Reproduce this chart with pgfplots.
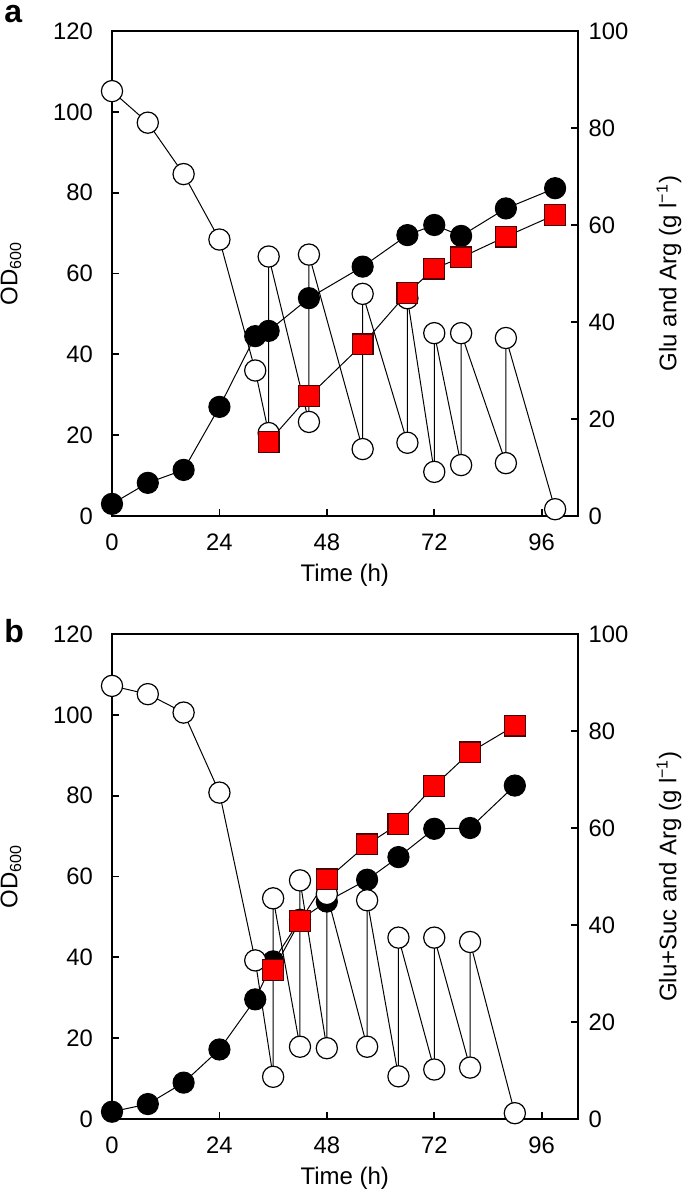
\documentclass[border=0pt]{standalone}
\usepackage{fontspec}
\setmainfont{Liberation Sans}
\usepackage{pgfplots}
\pgfplotsset{compat=1.18}

\pgfplotsset{
  base/.style={scale only axis, width=232.75pt, height=242.5pt,
    xmin=0, xmax=104, clip=false, tick align=inside, major tick length=3.5pt,
    /pgf/number format/assume math mode=true,
    tick label style={font=\fontsize{11.9}{13}\selectfont},
    label style={font=\fontsize{12}{13}\selectfont},
    axis line style={line width=1pt},
    every tick/.style={line width=0.9pt, black}},
  leftax/.style={base, ymin=0, ymax=120, ytick={0,20,...,120},
    xtick={0,24,...,96}, xtick pos=left, ytick pos=left,
    yticklabel shift=6pt, xticklabel shift=5.5pt,
    xlabel={Time (h)},
    xlabel style={at={(axis description cs:0.5,-0.136)}, anchor=base},
    ylabel={OD\textsubscript{600}},
    ylabel style={at={(axis description cs:-0.217,0.5)}, anchor=center}},
  rightax/.style={base, ymin=0, ymax=100, ytick={0,20,...,100},
    axis x line=none, axis y line*=right, yticklabel pos=right,
    yticklabel shift=2pt,
    ylabel style={at={(axis description cs:1.1966,0.5)}, anchor=center}},
  blk/.style={black, line width=0.5pt, mark=*, mark size=5.3pt,
    mark options={fill=black, draw=black, line width=0.5pt}},
  opn/.style={black, line width=0.5pt, mark=*, mark size=5.3pt,
    mark options={fill=white, draw=black, line width=0.6pt}},
  sqr/.style={black, line width=0.5pt, mark=square*, mark size=5.2pt,
    mark options={fill=red, draw=black!70!red, line width=0.6pt}},
}

\begin{document}
\begin{tikzpicture}
\useasboundingbox (0,0) rectangle (342.5pt,598pt);
\node[anchor=base west, inner sep=0pt, font=\bfseries\fontsize{16}{18}\selectfont] at (2pt,586.5pt) {a};
\node[anchor=base west, inner sep=0pt, font=\bfseries\fontsize{16}{18}\selectfont] at (2pt,276.5pt) {b};

% ---------- panel a ----------
\begin{axis}[leftax, at={(56pt,340pt)}, anchor=south west]
\addplot[blk] coordinates {(0,3.0) (8,8.2) (16,11.4) (24,27.0) (32,44.5) (35,45.8) (44,53.9) (56,61.7) (66,69.5) (72,72.0) (78,69.3) (88,76.1) (99,81.1)};
\end{axis}
\begin{axis}[rightax, at={(56pt,340pt)}, anchor=south west,
  ylabel={Glu and Arg (g l\textsuperscript{−1})}]
\addplot[opn] coordinates {(0,87.6) (8,81.1) (16,70.5) (24,57.0) (32,30.0) (35,17.1) (35,53.5) (44,19.4) (44,53.9) (56,13.8) (56,45.8) (66,15.1) (66,44.9) (72,9.1) (72,37.7) (78,10.5) (78,37.7) (88,10.9) (88,36.7) (99,1.4)};
\addplot[sqr] coordinates {(35,15.3) (44,24.7) (56,35.4) (66,46.0) (72,51.0) (78,53.3) (88,57.6) (99,62.1)};
\end{axis}

% ---------- panel b ----------
\begin{axis}[leftax, at={(56pt,38.5pt)}, anchor=south west]
\addplot[blk] coordinates {(0,1.8) (8,3.7) (16,9.0) (24,17.2) (32,29.6) (36,39.0) (42,49.3) (48,53.8) (57,59.2) (64,64.8) (72,71.8) (80,72.0) (90,82.5)};
\end{axis}
\begin{axis}[rightax, at={(56pt,38.5pt)}, anchor=south west,
  ylabel={Glu+Suc and Arg (g l\textsuperscript{−1})}]
\addplot[opn] coordinates {(0,89.3) (8,87.6) (16,83.8) (24,67.3) (32,32.7) (36,8.7) (36,45.5) (42,14.9) (42,49.2) (48,14.6) (48,46.4) (57,14.9) (57,45.1) (64,8.8) (64,37.4) (72,10.2) (72,37.4) (80,10.6) (80,36.5) (90,1.2)};
\addplot[sqr] coordinates {(36,30.7) (42,40.8) (48,49.4) (57,56.6) (64,60.8) (72,68.7) (80,75.6) (90,81.1)};
\end{axis}
\end{tikzpicture}
\end{document}
